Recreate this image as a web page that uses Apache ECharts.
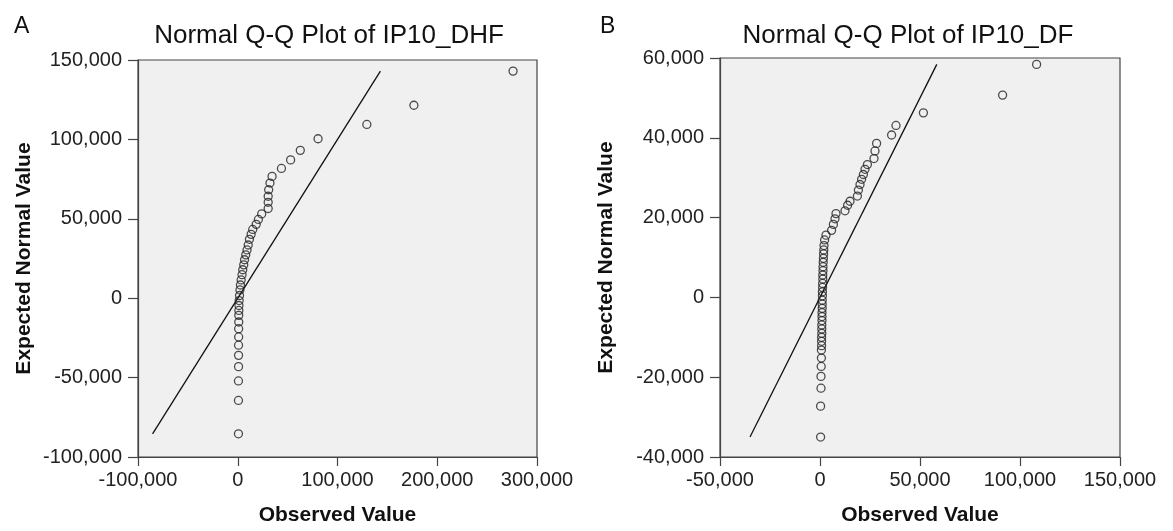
<!DOCTYPE html>
<html>
<head>
<meta charset="utf-8">
<script src="https://cdn.jsdelivr.net/npm/echarts@6/dist/echarts.min.js"></script>
<style>
html,body{margin:0;padding:0;background:#fff;}
#c{width:1173px;height:531px;}
</style>
</head>
<body>
<div id="c"></div>
<script>
// Panel A: IP10_DHF
const dhfObserved = [700, 700, 700, 800, 800, 800, 900, 900, 1000, 1000, 1100, 1200, 1400, 1800, 2200, 2700, 3400, 4300, 5000, 6000, 6800, 8000, 9300, 10500, 11700, 13400, 15000, 18500, 20700, 24000, 30500, 30500, 30500, 31000, 32300, 34400, 43800, 53000, 62700, 80500, 129400, 176600, 276000];
const dhfExpected = [-85400, -64400, -52100, -43100, -36000, -29600, -24400, -19200, -15000, -10800, -7700, -4600, -1500, 1700, 5200, 8300, 11500, 14800, 17900, 21000, 24200, 27300, 30400, 33500, 37100, 40200, 43300, 46500, 49600, 53100, 56500, 60400, 64200, 68300, 72500, 76700, 81700, 87100, 93100, 100400, 109400, 121500, 143000];
const dhfLine = [-85400, 143000];
const dhfXTicks = {min: -100000, max: 300000, interval: 100000};
const dhfYTicks = {min: -100000, max: 150000, interval: 50000};

// Panel B: IP10_DF
const dfObserved = [300, 300, 500, 500, 600, 700, 700, 800, 800, 800, 900, 900, 900, 1000, 1000, 1000, 1100, 1100, 1100, 1200, 1200, 1300, 1300, 1400, 1400, 1500, 1500, 1600, 1700, 1800, 1900, 2000, 2300, 3000, 5800, 6700, 7500, 8000, 12500, 13800, 15000, 18700, 19200, 20000, 20800, 21700, 22500, 23700, 27000, 27500, 28300, 35800, 38000, 51700, 91300, 108300];
const dfExpected = [-35000, -27250, -22750, -19800, -17300, -15200, -13200, -12100, -11000, -10000, -9000, -7900, -6900, -5800, -4800, -3800, -2750, -1700, -700, 400, 1400, 2500, 3500, 4600, 5600, 6700, 7700, 8800, 9800, 10900, 11900, 13000, 14400, 15600, 16800, 18300, 19700, 21000, 21700, 23100, 24100, 25400, 26900, 28300, 29600, 30800, 32100, 33300, 34800, 36700, 38600, 40700, 43100, 46250, 50700, 58400];
const dfLine = [-35000, 58400];
const dfXTicks = {min: -50000, max: 150000, interval: 50000};
const dfYTicks = {min: -40000, max: 60000, interval: 20000};

const titles = ['Normal Q-Q Plot of IP10_DHF', 'Normal Q-Q Plot of IP10_DF'];
const panelLetters = ['A', 'B'];
const xName = 'Observed Value';
const yName = 'Expected Normal Value';

const FONT = '"Liberation Sans", Arial, sans-serif';
const fmt = v => Number(v).toLocaleString('en-US');

function pairs(xs, ys){ return xs.map((x,i)=>[x, ys[i]]); }

function xAxis(gi, t){
  return {
    type:'value', gridIndex: gi, min:t.min, max:t.max, interval:t.interval,
    name: xName, nameLocation:'middle', nameGap: 48,
    nameTextStyle:{fontFamily:FONT, fontSize:21, fontWeight:'bold', color:'#111'},
    axisLine:{show:true, onZero:false, lineStyle:{color:'#444', width:1.2}},
    axisTick:{show:true, inside:false, length:9, lineStyle:{color:'#444', width:1.2}},
    axisLabel:{formatter:fmt, fontFamily:FONT, fontSize:20, color:'#222', margin:13, showMinLabel:true, showMaxLabel:true},
    splitLine:{show:false}
  };
}
function yAxis(gi, t){
  return {
    type:'value', gridIndex: gi, min:t.min, max:t.max, interval:t.interval,
    name: yName, nameLocation:'middle', nameGap: 103, nameRotate: 90,
    nameTextStyle:{fontFamily:FONT, fontSize:21, fontWeight:'bold', color:'#111'},
    axisLine:{show:true, onZero:false, lineStyle:{color:'#444', width:1.2}},
    axisTick:{show:true, inside:false, length:10, lineStyle:{color:'#444', width:1.2}},
    axisLabel:{formatter:fmt, fontFamily:FONT, fontSize:20, color:'#222', margin:16, showMinLabel:true, showMaxLabel:true},
    splitLine:{show:false}
  };
}
function scatter(gi, xs, ys){
  return {
    type:'scatter', xAxisIndex:gi, yAxisIndex:gi, data:pairs(xs, ys),
    symbol:'circle', symbolSize:8,
    itemStyle:{color:'rgba(0,0,0,0)', borderColor:'#222', borderWidth:1.3},
    silent:true, z:3
  };
}
function refLine(gi, ends){
  return {
    type:'line', xAxisIndex:gi, yAxisIndex:gi, data:ends.map(v=>[v,v]),
    symbol:'none', lineStyle:{color:'#111', width:1.3}, silent:true, z:2
  };
}

const chart = echarts.init(document.getElementById('c'), null, {renderer:'canvas'});
chart.setOption({
  backgroundColor:'#fff',
  animation:false,
  grid:[
    {left:138, top:60, width:399, height:400, show:true, backgroundColor:'#f0f0f0', borderColor:'#444', borderWidth:1.2},
    {left:720, top:58, width:400, height:400, show:true, backgroundColor:'#f0f0f0', borderColor:'#444', borderWidth:1.2}
  ],
  xAxis:[xAxis(0, dhfXTicks), xAxis(1, dfXTicks)],
  yAxis:[yAxis(0, dhfYTicks), yAxis(1, dfYTicks)],
  series:[
    refLine(0, dhfLine), scatter(0, dhfObserved, dhfExpected),
    refLine(1, dfLine), scatter(1, dfObserved, dfExpected)
  ],
  graphic:[
    {type:'text', x:14, y:27, style:{text:panelLetters[0], fontFamily:FONT, fontSize:23, fill:'#111', textAlign:'left', textVerticalAlign:'middle'}},
    {type:'text', x:600, y:27, style:{text:panelLetters[1], fontFamily:FONT, fontSize:23, fill:'#111', textAlign:'left', textVerticalAlign:'middle'}},
    {type:'text', x:329, y:36, style:{text:titles[0], fontFamily:FONT, fontSize:26, fill:'#111', textAlign:'center', textVerticalAlign:'middle'}},
    {type:'text', x:908, y:36, style:{text:titles[1], fontFamily:FONT, fontSize:26, fill:'#111', textAlign:'center', textVerticalAlign:'middle'}}
  ]
});
</script>
</body>
</html>
